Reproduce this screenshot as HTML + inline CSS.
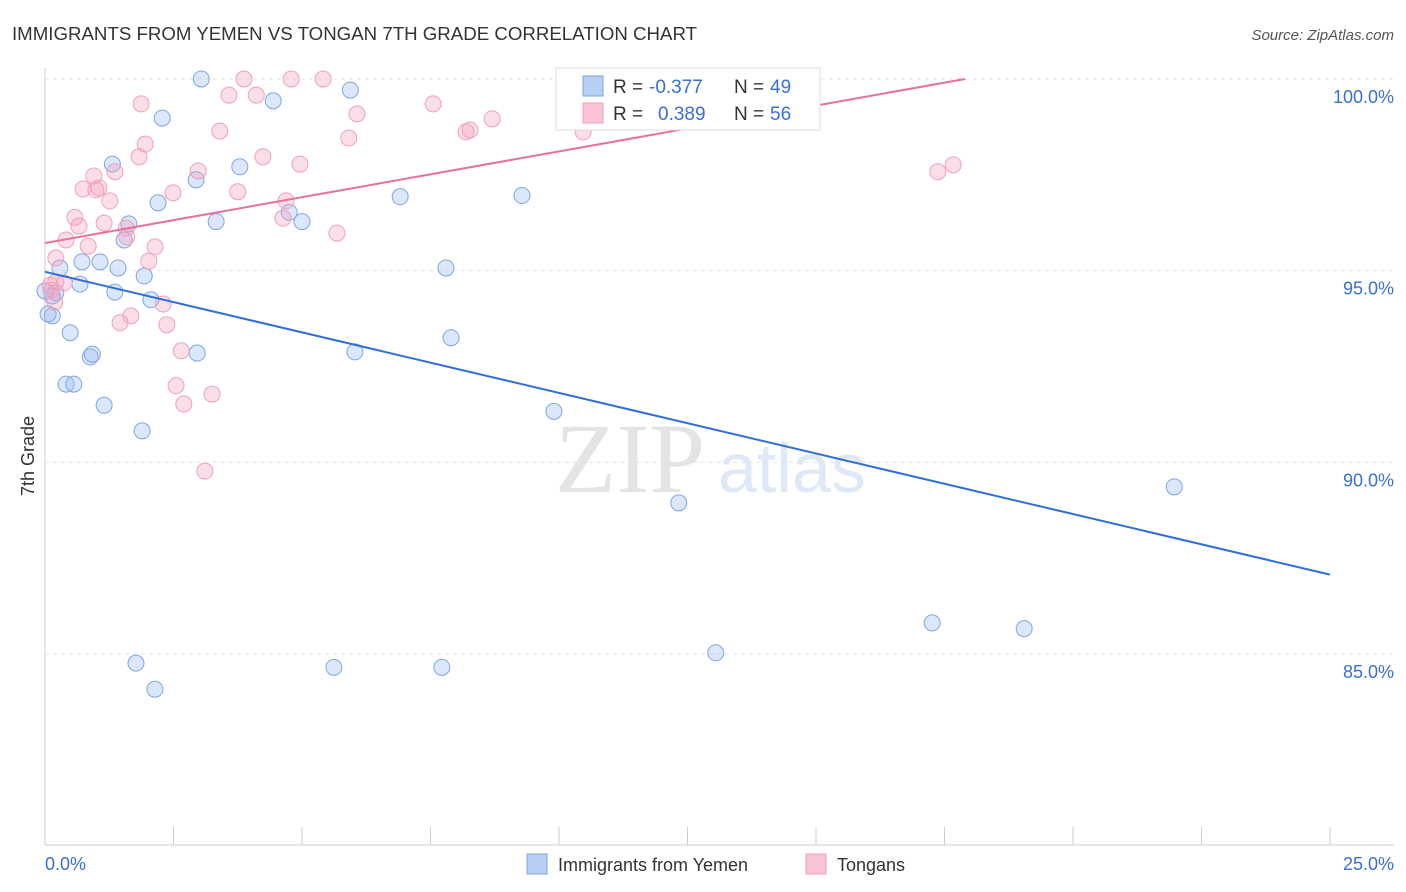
<!DOCTYPE html>
<html><head><meta charset="utf-8"><style>
body{margin:0;background:#fff;font-family:"Liberation Sans",sans-serif;}
svg{display:block}
</style></head><body>
<svg id="c" width="1406" height="892">
<text x="12" y="40" font-size="18" fill="#333" textLength="685" lengthAdjust="spacingAndGlyphs">IMMIGRANTS FROM YEMEN VS TONGAN 7TH GRADE CORRELATION CHART</text>
<text x="1394" y="40" font-size="15" fill="#555" font-style="italic" text-anchor="end">Source: ZipAtlas.com</text>
<text x="555" y="492" font-size="100" fill="#e4e4e4" font-family="Liberation Serif">ZIP</text>
<text x="718" y="492" font-size="70" fill="#dfe8f7">atlas</text>
<g id="grid"></g><g id="pts"></g><g id="lines"></g>
<text transform="translate(34,456) rotate(-90)" font-size="18" fill="#333" text-anchor="middle">7th Grade</text>
<text x="45" y="870" font-size="18" fill="#3a6fd8">0.0%</text>
<text x="1394" y="870" font-size="18" fill="#3a6fd8" text-anchor="end">25.0%</text>
<g>
<rect x="556" y="68" width="264" height="62" fill="#fff" stroke="#ddd"/>
<rect x="583" y="76" width="20" height="20" fill="#b7cff5" stroke="#7ea6e0"/>
<rect x="583" y="103" width="20" height="20" fill="#f9c3d3" stroke="#f0a0b8"/>
<text x="613" y="93" font-size="19" fill="#333">R = <tspan fill="#3a6fd8" x="649">-0.377</tspan><tspan x="734">N = </tspan><tspan fill="#3a6fd8" x="770">49</tspan></text>
<text x="613" y="120" font-size="19" fill="#333">R = <tspan fill="#3a6fd8" x="658">0.389</tspan><tspan x="734">N = </tspan><tspan fill="#3a6fd8" x="770">56</tspan></text>
</g>
<g>
<rect x="527" y="854" width="20" height="20" fill="#b7cff5" stroke="#7ea6e0"/>
<text x="558" y="871" font-size="18" fill="#333">Immigrants from Yemen</text>
<rect x="806" y="854" width="20" height="20" fill="#f9c3d3" stroke="#f0a0b8"/>
<text x="837" y="871" font-size="18" fill="#333">Tongans</text>
</g>
</svg>
<script>
const yTicks=[100,95,90,85];
const yTickLabels=["100.0%","95.0%","90.0%","85.0%"];
const blueX=[3.04,5.94,4.44,2.28,1.31,3.79,2.94,2.20,6.91,9.28,3.33,5.0,4.75,1.63,1.54,0.72,1.07,1.42,0.29,1.93,7.80,0.68,0.21,1.36,0.14,2.06,0.14,0.49,7.90,0.88,0.92,2.96,6.03,0.41,0.56,1.15,9.90,1.89,12.33,21.97,17.26,19.05,13.05,1.77,5.62,7.72,2.14,0.0,0.06];
const blueY=[100,99.71,99.43,98.98,97.78,97.71,97.37,96.77,96.93,96.96,96.28,96.28,96.52,96.22,95.80,95.23,95.23,95.07,95.07,94.86,95.07,94.65,94.42,94.44,94.34,94.24,93.82,93.38,93.25,92.75,92.82,92.85,92.88,92.04,92.04,91.49,91.33,90.82,88.94,89.36,85.81,85.66,85.03,84.76,84.65,84.65,84.08,94.47,93.87];
const pinkX=[3.87,4.79,5.41,1.87,4.11,3.58,6.07,7.55,8.70,8.27,8.19,10.47,3.40,5.91,1.95,1.83,4.24,4.96,2.98,1.36,0.95,0.74,1.05,0.99,2.49,3.75,1.26,4.69,0.58,4.63,1.15,0.66,1.58,5.68,0.41,0.84,2.14,1.59,0.21,2.02,0.21,0.12,0.37,0.19,2.30,1.67,1.46,2.37,2.65,2.55,3.25,2.70,3.11,17.37,17.67,0.10];
const pinkY=[100,100,100,99.35,99.58,99.58,99.09,99.35,98.96,98.67,98.62,98.62,98.64,98.46,98.30,97.97,97.97,97.78,97.60,97.58,97.47,97.13,97.16,97.11,97.03,97.06,96.82,96.82,96.39,96.37,96.24,96.16,96.11,95.98,95.80,95.64,95.62,95.88,95.33,95.25,94.70,94.49,94.68,94.18,94.13,93.82,93.64,93.59,92.91,92.0,91.78,91.52,89.77,97.58,97.76,94.62];
const blueFit=[94.97,87.07];
const pinkFit=[95.72,100];
const ns="http://www.w3.org/2000/svg";
const X0=45,X1=1330,xs=v=>X0+(v/25)*(X1-X0);
const ys=v=>79+(100-v)*38.33;
function mk(tag,at,par){const e=document.createElementNS(ns,tag);for(const k in at)e.setAttribute(k,at[k]);document.getElementById(par).appendChild(e);return e;}
let ax=mk('line',{x1:X0,y1:68,x2:X0,y2:845,stroke:'#ccc'},'grid');


let bx=mk('line',{x1:X0,y1:845,x2:1394,y2:845,stroke:'#ccc'},'grid');


for(let i=0;i<=10;i++){const x=xs(i*2.5);const t=mk('line',{x1:x,y1:827,x2:x,y2:845,stroke:'#ccc'},'grid');

}
yTicks.forEach((v,i)=>{const g=mk('line',{x1:X0,y1:ys(v),x2:1394,y2:ys(v),stroke:'#e2e2e2','stroke-dasharray':'4,4'},'grid');


const t=mk('text',{x:1394,y:ys(v)+24,'font-size':18,fill:'#3a6fd8','text-anchor':'end'},'grid');t.textContent=yTickLabels[i];

});
blueX.forEach((v,i)=>{const c=mk('circle',{cx:xs(v),cy:ys(blueY[i]),r:8,fill:'rgba(164,194,244,0.4)',stroke:'#7ea6e0','stroke-width':1},'pts');

});
pinkX.forEach((v,i)=>{const c=mk('circle',{cx:xs(v),cy:ys(pinkY[i]),r:8,fill:'rgba(244,164,190,0.35)',stroke:'#f0a0b8','stroke-width':1},'pts');

});
let bl=mk('line',{x1:xs(0),y1:ys(blueFit[0]),x2:xs(25),y2:ys(blueFit[1]),stroke:'#2f6fd8','stroke-width':2},'lines');


const pSlope=(pinkFit[1]-pinkFit[0])/17.9;
let pl=mk('line',{x1:xs(0),y1:ys(pinkFit[0]),x2:xs(17.9),y2:ys(pinkFit[0]+pSlope*17.9),stroke:'#e8709a','stroke-width':2},'lines');


</script>
</body></html>
